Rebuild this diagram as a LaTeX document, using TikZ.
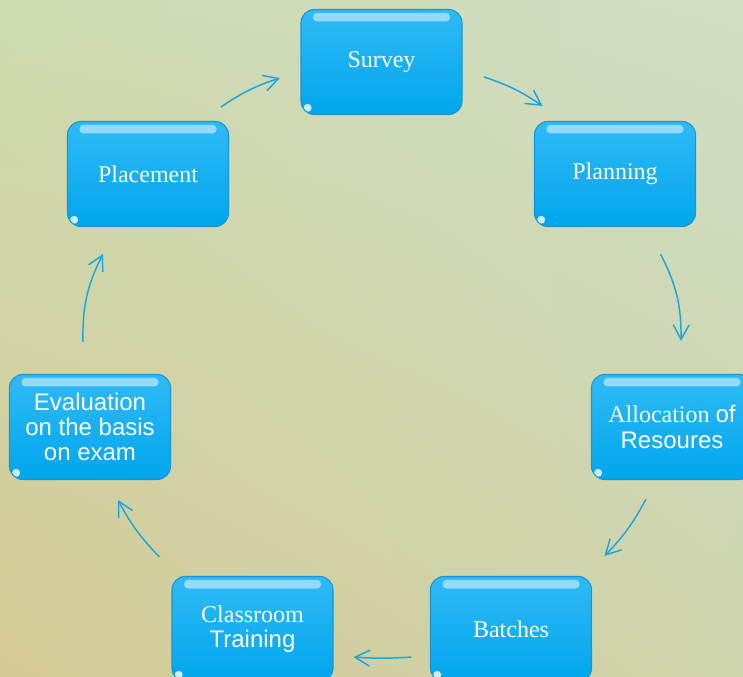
\documentclass[tikz,border=0pt]{standalone}
\usepackage{fontspec}
\setmainfont{Liberation Serif}
\setsansfont{Liberation Sans}
\usetikzlibrary{arrows.meta,positioning,shadings}
\definecolor{bgUL}{RGB}{206,219,176}
\definecolor{bgUR}{RGB}{208,222,196}
\definecolor{bgLL}{RGB}{212,202,150}
\definecolor{bgLR}{RGB}{206,212,172}
\definecolor{boxTop}{RGB}{48,186,246}
\definecolor{boxBot}{RGB}{0,166,236}
\definecolor{boxLine}{RGB}{22,150,212}
\definecolor{arrowBlue}{RGB}{28,166,222}
\tikzstyle{recNode} = [rectangle, minimum width=120.75pt, minimum height=78.75pt, text centered, align=center, rounded corners=10pt, draw=boxLine, line width=0.8pt, top color=boxTop, bottom color=boxBot, text=white, font=\fontsize{18}{19}\selectfont,
  path picture={\fill[cyan!35!white, opacity=0.85, rounded corners=3pt] ([xshift=9pt,yshift=-2.5pt]path picture bounding box.north west) rectangle ([xshift=-9pt,yshift=-9pt]path picture bounding box.north east);
                \fill[white, opacity=0.8] ([xshift=5pt,yshift=5pt]path picture bounding box.south west) circle (3pt);}]
\tikzstyle{arrowC} = [line width=1.1pt, draw=arrowBlue, -{Straight Barb[length=11pt,width=12pt]}]

\begin{document}
\begin{tikzpicture}[x=0.75pt,y=-0.75pt]
        \shade[upper left=bgUL, upper right=bgUR, lower left=bgLL, lower right=bgLR] (0,0) rectangle (743,677);
        \useasboundingbox (0,0) rectangle (743,677);

        \node (sv) [recNode] at (381.5,62) {Survey};
        \node (pn) [recNode] at (615,174) {Planning};
        \node (al) [recNode] at (672,427) {Allocation {\sffamily of}\\{\sffamily Resoures}};
        \node (bt) [recNode] at (511,629) {Batches};
        \node (cr) [recNode] at (252.5,629) {Classroom\\{\sffamily Training}};
        \node (ev) [recNode, font=\sffamily\fontsize{18}{19}\selectfont] at (90,427) {Evaluation\\on the basis\\on exam};
        \node (pm) [recNode] at (148,174) {Placement};

        \draw [arrowC] ([shift={(21.5,15)}]sv.east) to[bend left=8] ([shift={(8.5,-15)}]pn.north west);
        \draw [arrowC] ([shift={(-35.5,27)}]pn.south east) to[bend left=14] ([shift={(9,-33)}]al.north);
        \draw [arrowC] ([shift={(-26,19)}]al.south) to[bend left=8] ([shift={(12.5,-20)}]bt.north east);
        \draw [arrowC] ([shift={(-18.5,28)}]bt.west) to[bend left=4] ([shift={(20,28)}]cr.east);
        \draw [arrowC] ([shift={(-12,-19)}]cr.north west) to[bend left=8] ([shift={(28,20)}]ev.south);
        \draw [arrowC] ([shift={(-7,-32)}]ev.north) to[bend left=14] ([shift={(-45,27)}]pm.south);
        \draw [arrowC] ([shift={(-8,-14)}]pm.north east) to[bend left=8] ([shift={(-20.5,16)}]sv.west);

    \end{tikzpicture}
\end{document}
